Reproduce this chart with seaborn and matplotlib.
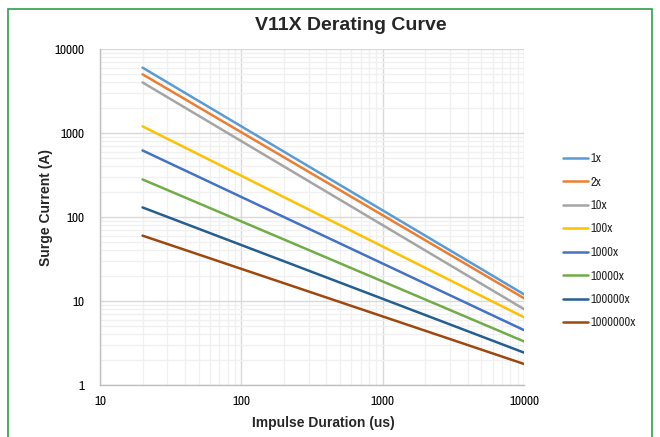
import matplotlib
matplotlib.use("Agg")
import matplotlib.pyplot as plt
from matplotlib.patches import Rectangle
from matplotlib.ticker import LogLocator, FixedLocator, NullFormatter
import seaborn as sns
import pandas as pd

durations = [20, 10000]
series_names = ["1x", "2x", "10x", "100x", "1000x", "10000x", "100000x", "1000000x"]
start_current = [6000, 5000, 4000, 1200, 620, 280, 130, 60]
end_current = [12, 10.8, 8, 6.4, 4.5, 3.3, 2.43, 1.78]
colors = ["#5B9BD5", "#ED7D31", "#A5A5A5", "#FFC000", "#4472C4", "#70AD47", "#255E91", "#9E480E"]
x_ticks = [10, 100, 1000, 10000]
y_ticks = [1, 10, 100, 1000, 10000]

rows = []
for name, s, e in zip(series_names, start_current, end_current):
    rows.append({"Duration": durations[0], "Current": s, "Series": name})
    rows.append({"Duration": durations[1], "Current": e, "Series": name})
df = pd.DataFrame(rows)

sns.set_theme(style="white")
REG = ["Archivo Narrow", "Liberation Sans", "DejaVu Sans"]
BOLD = ["Liberation Sans", "DejaVu Sans"]
plt.rcParams["font.family"] = REG

W, H = 660, 437
fig = plt.figure(figsize=(6.6, 4.37), dpi=100)
ax = fig.add_axes([100/W, 1-385/H, 424/W, 336/H])

sns.lineplot(data=df, x="Duration", y="Current", hue="Series", hue_order=series_names,
             palette=colors, linewidth=1.8, ax=ax)
ax.set_xscale("log")
ax.set_yscale("log")
ax.set_xlim(10, 10000)
ax.set_ylim(1, 10000)

ax.xaxis.set_major_locator(FixedLocator(x_ticks))
ax.yaxis.set_major_locator(FixedLocator(y_ticks))
ax.set_xticklabels([str(v) for v in x_ticks])
ax.set_yticklabels([str(v) for v in y_ticks])
ax.xaxis.set_minor_locator(LogLocator(base=10, subs=range(2, 10), numticks=20))
ax.yaxis.set_minor_locator(LogLocator(base=10, subs=range(2, 10), numticks=20))
ax.xaxis.set_minor_formatter(NullFormatter())
ax.yaxis.set_minor_formatter(NullFormatter())
ax.grid(True, which="major", color="#d9d9d9", linewidth=1)
ax.grid(True, which="minor", color="#f0f0f0", linewidth=1)
ax.set_axisbelow(True)
ax.tick_params(axis="both", which="both", length=0, labelsize=9.5, colors="#000000")
ax.tick_params(axis="x", pad=8)
ax.tick_params(axis="y", pad=11.5)

for side in ["top", "right"]:
    ax.spines[side].set_visible(False)
for side in ["left", "bottom"]:
    ax.spines[side].set_color("#bfbfbf")
    ax.spines[side].set_linewidth(1)

ax.set_xlabel("")
ax.set_ylabel("")
fig.text(323/W, 1-427/H, "Impulse Duration (us)", ha="center", va="baseline",
         fontsize=10, fontweight="bold", family=BOLD)
fig.text(46/W, 1-208/H, "Surge Current (A)", ha="center", va="center", rotation=90,
         fontsize=10, fontweight="bold", family=BOLD)

handles, labels = ax.get_legend_handles_labels()
ax.legend(handles, labels, loc="upper left", bbox_to_anchor=(558/W, 1-148/H),
          bbox_transform=fig.transFigure, frameon=False, fontsize=9,
          handlelength=2.0, labelspacing=1.0, handletextpad=0.2, borderaxespad=0)

fig.text(351/W, 1-30/H, "V11X Derating Curve", ha="center", va="baseline",
         fontsize=14, fontweight="bold", family=BOLD)

fig.patches.append(Rectangle((8/W, -0.02), 644/W, 1.0, transform=fig.transFigure,
                             fill=False, edgecolor="#2e9e4a", linewidth=1.2))

fig.savefig("out.png", dpi=100)
